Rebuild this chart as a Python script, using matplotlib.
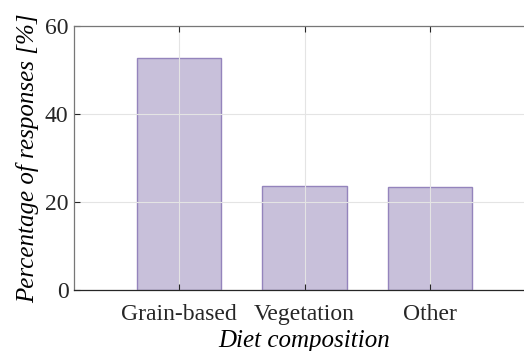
import matplotlib.pyplot as plt
import numpy as np

# Data
categories = ["Grain-based", "Vegetation", "Other"]
percentages = [52.8, 23.6, 23.4]
yticks = [0, 20, 40, 60]

plt.rcParams["font.family"] = ["Liberation Serif", "DejaVu Serif"]

fig = plt.figure(figsize=(5.24, 3.51), dpi=100)
# axes runs slightly past the right edge, like the cropped original
ax = fig.add_axes([74 / 524, 61 / 351, 461 / 524, 264 / 351])

x = np.arange(1, len(categories) + 1)
ax.bar(x, percentages, width=0.67, color="#c8c0da", edgecolor="#9484bc",
       linewidth=1.0, zorder=1)

ax.set_xlim(0.163, 3.837)
ax.set_ylim(0, 60)
ax.set_xticks(x)
ax.set_xticklabels(categories)
ax.set_yticks(yticks)

ax.grid(True, color="#e4e4e4", linewidth=0.8, zorder=2)
ax.set_axisbelow(False)

ax.tick_params(direction="in", length=4, width=0.8, labelsize=17,
               colors="#262626", top=True, right=False, pad=4)
# put the category names on a common baseline
ax.tick_params(axis="x", pad=21.5)
for lab in ax.get_xticklabels():
    lab.set_verticalalignment("baseline")

for s in ["top", "left"]:
    ax.spines[s].set_color("#777777")
ax.spines["right"].set_visible(False)
ax.spines["bottom"].set_color("#262626")
for s in ax.spines.values():
    s.set_linewidth(0.9)
    s.set_zorder(3)

ax.set_xlabel("Diet composition", fontsize=18, style="italic", labelpad=4)
ax.set_ylabel("Percentage of responses [%]", fontsize=18, style="italic",
              labelpad=4)

plt.savefig("out.png", dpi=100)
